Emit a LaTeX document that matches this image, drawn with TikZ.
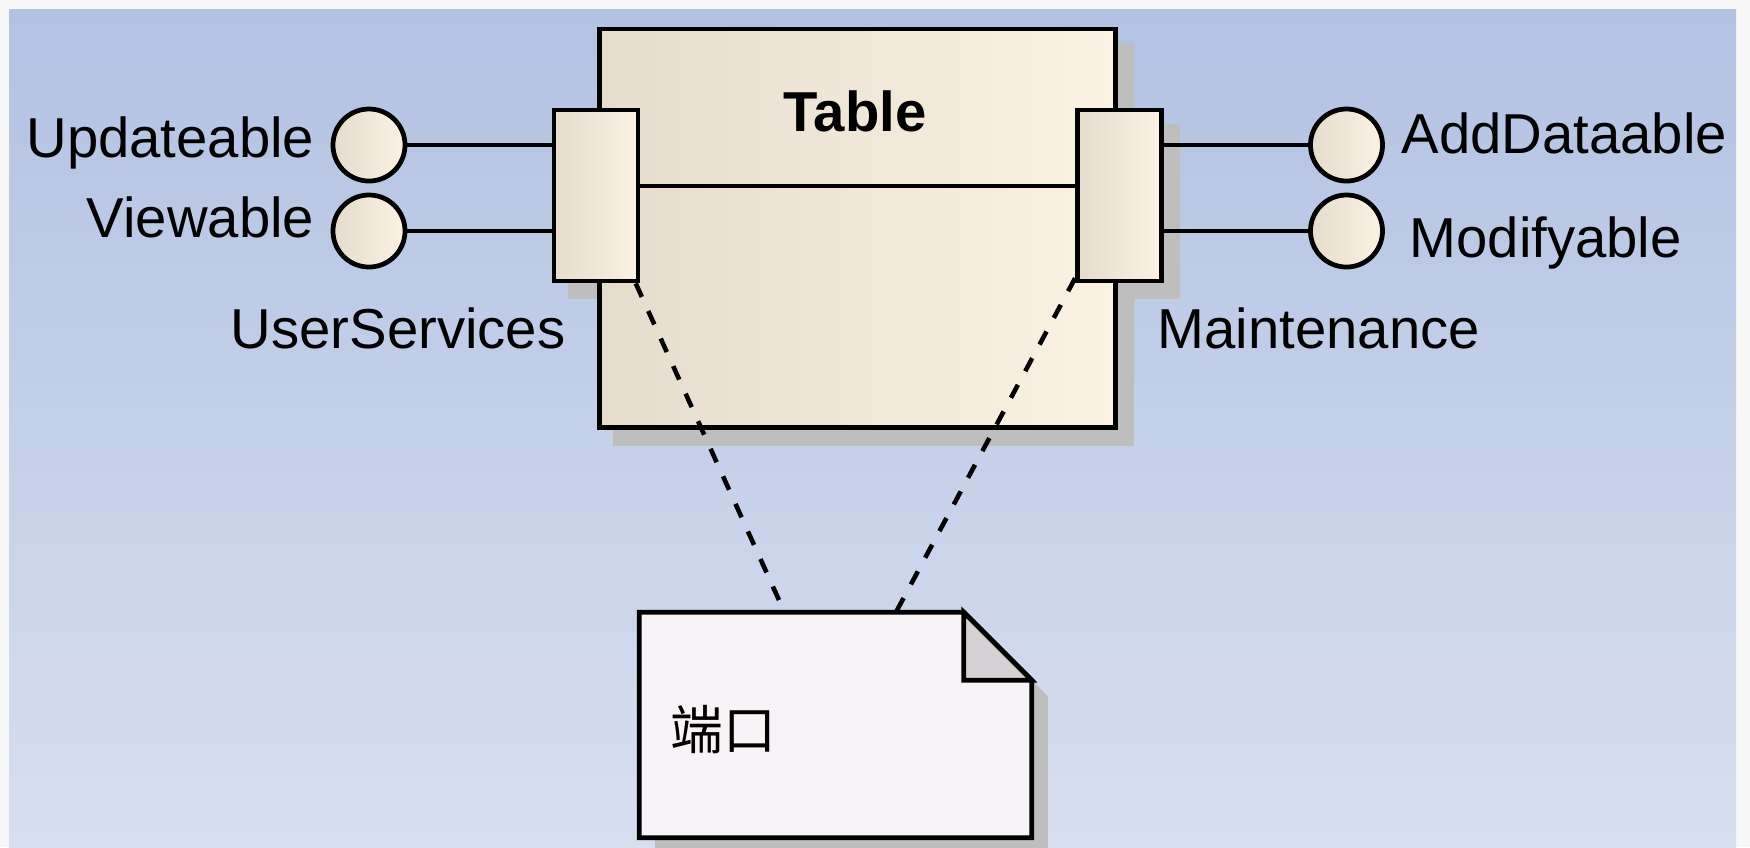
\documentclass[tikz,border=0pt]{standalone}
\usepackage{fontspec}
\setmainfont{Liberation Sans}
\newfontfamily\cjkfont{Noto Sans CJK SC}
\usetikzlibrary{calc}

\definecolor{pagec}{HTML}{F7F7F7}
\definecolor{bgtop}{HTML}{B2C2E2}
\definecolor{bgbot}{HTML}{D7DEEF}
\definecolor{boxl}{HTML}{E5DCCE}
\definecolor{boxr}{HTML}{FCF2E4}
\definecolor{shadowc}{HTML}{BEBEBE}
\definecolor{notec}{HTML}{F7F3F7}
\definecolor{foldc}{HTML}{D5D1D5}

\pgfdeclarelayer{back}
\pgfdeclarelayer{shade}
\pgfsetlayers{back,shade,main}

\tikzset{
  box/.style={rectangle, draw=black, line width=1.35pt, left color=boxl, right color=boxr, inner sep=0pt},
  component/.style={box, minimum width=5.15cm, minimum height=3.98cm},
  portbox/.style={box, minimum width=0.84cm, minimum height=1.71cm},
  lolli/.style={circle, draw=black, line width=1.35pt, left color=boxl, right color=boxr, minimum size=0.72cm, inner sep=0pt},
  lbl/.style={inner sep=0pt, font=\fontsize{16}{19}\selectfont},
  wire/.style={line width=1.3pt},
  trace/.style={line width=1.3pt, dash pattern=on 4.2pt off 4.4pt},
  notebody/.style={draw=black, line width=1.35pt, fill=notec, line join=miter},
  notefold/.style={draw=black, line width=1.35pt, fill=foldc},
  shadowfill/.style={fill=shadowc}
}

\begin{document}
\begin{tikzpicture}[x=0.01cm, y=-0.01cm]
\useasboundingbox (0,0) rectangle (1750,847);

\begin{pgfonlayer}{back}
  \fill[pagec] (0,0) rectangle (1750,847);
  \shade[top color=bgtop, bottom color=bgbot] (9,9) rectangle (1736,847);
\end{pgfonlayer}

% component with its two ports
\node[component] (table) at (857.5,228) {};
\node[lbl, anchor=base, font=\bfseries\fontsize{16}{19}\selectfont] (title) at (855,131) {Table};
\node[portbox] (portL) at (596,195.5) {};
\node[portbox] (portR) at (1119.5,195.5) {};
\draw[wire] ([yshift=0.095cm]portL.east) -- ([yshift=0.095cm]portR.west);

% provided interfaces
\node[lolli] (upd) at (369,145) {};
\node[lolli] (view) at (369,231) {};
\node[lolli] (add) at (1346.5,145) {};
\node[lolli] (mod) at (1346.5,231) {};
\draw[wire] (upd.east) -- (upd.east -| portL.west);
\draw[wire] (view.east) -- (view.east -| portL.west);
\draw[wire] (add.west) -- (add.west -| portR.east);
\draw[wire] (mod.west) -- (mod.west -| portR.east);

% labels
\node[lbl, anchor=base east] (lupd) at (315,157) {Updateable};
\node[lbl, anchor=base east] (lview) at (315,237) {Viewable};
\node[lbl, anchor=base west] (luser) at (230,348) {UserServices};
\node[lbl, anchor=base west] (lmaint) at (1157,348) {Maintenance};
\node[lbl, anchor=base west] (ladd) at (1401,153) {AddDataable};
\node[lbl, anchor=base west] (lmod) at (1409,257) {Modifyable};

% note
\node[rectangle, minimum width=3.91cm, minimum height=2.24cm, inner sep=0pt] (note) at (835.5,725) {};
\draw[notebody] (note.north west) -- ($(note.north east)+(-68,0)$) -- ($(note.north east)+(0,68)$)
  -- (note.south east) -- (note.south west) -- cycle;
\draw[notefold] ($(note.north east)+(-68,0)$) -- ($(note.north east)+(-68,68)$) -- ($(note.north east)+(0,68)$) -- cycle;
\node[anchor=base west, inner sep=0pt, font=\cjkfont\fontsize{15}{18}\selectfont] (notetext) at (670,749) {端口};

% note links
\draw[trace] (portL) -- (note);
\draw[trace] (portR) -- (note);

% drop shadows
\begin{pgfonlayer}{shade}
  \fill[shadowfill] ([shift={(16,16)}]table.north west) rectangle ([shift={(16,16)}]table.south east);
  \fill[shadowfill] ([shift={(16,16)}]portL.north west) rectangle ([shift={(16,16)}]portL.south east);
  \fill[shadowfill] ([shift={(16,16)}]portR.north west) rectangle ([shift={(16,16)}]portR.south east);
  \fill[shadowfill] ([shift={(16,16)}]note.north west) -- ($(note.north east)+(-52,16)$) -- ($(note.north east)+(16,84)$)
    -- ([shift={(16,16)}]note.south east) -- ([shift={(16,16)}]note.south west) -- cycle;
\end{pgfonlayer}
\end{tikzpicture}
\end{document}
